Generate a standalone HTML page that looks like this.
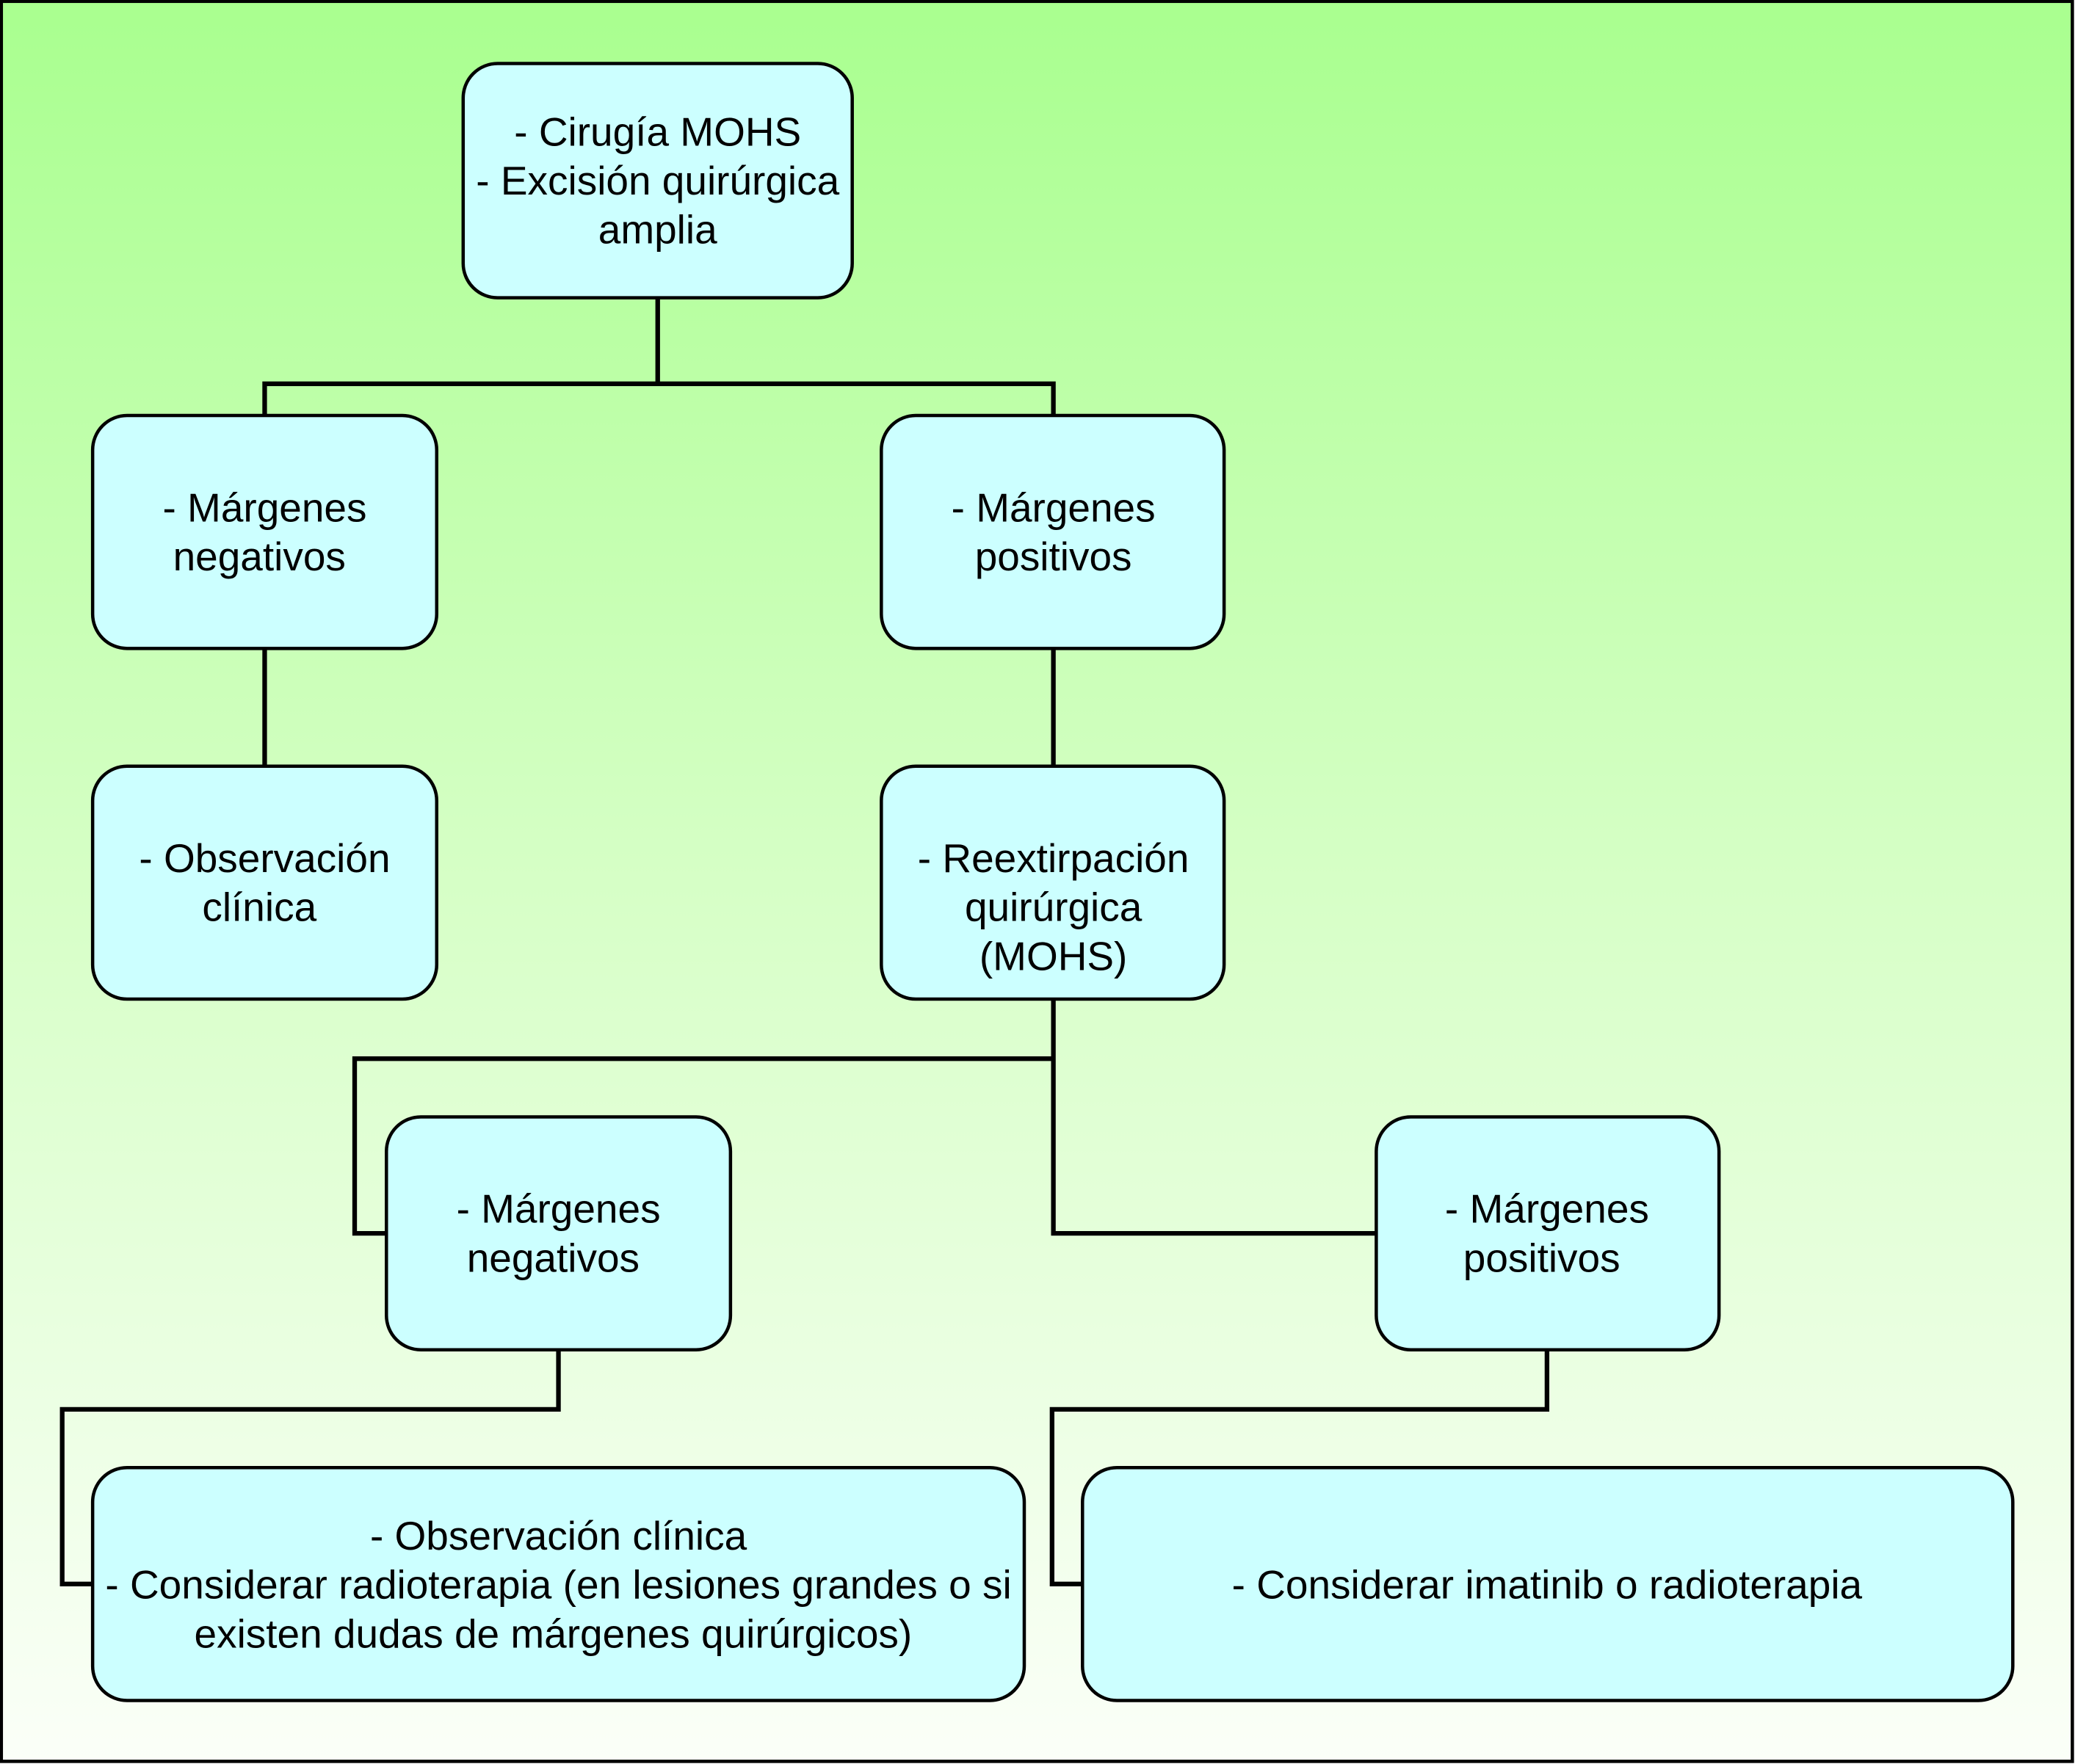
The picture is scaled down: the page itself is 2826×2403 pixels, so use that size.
<!DOCTYPE html>
<html><head><meta charset="utf-8"><style>
html,body{margin:0;padding:0;background:#fff;}
svg{display:block;}
text{font-family:"Liberation Sans",Arial,sans-serif;font-size:30.5px;fill:#000;text-anchor:middle;}
</style></head><body>
<svg width="2826" height="2403" viewBox="0 0 1568 1333" preserveAspectRatio="none" xmlns="http://www.w3.org/2000/svg">
<defs><linearGradient id="g" x1="0" y1="0" x2="0" y2="1">
<stop offset="0" stop-color="#a9ff8f"/><stop offset="0.5" stop-color="#d6ffc6"/><stop offset="1" stop-color="#fbfff8"/></linearGradient></defs>
<rect x="1" y="1" width="1565" height="1330" fill="url(#g)" stroke="#000" stroke-width="2.5"/>
<g fill="none" stroke="#000" stroke-width="3.5">
<path d="M497 225V290M200 314V290H796V314"/>
<path d="M200 490V579M796 490V579"/>
<path d="M796 755V932H1040M796 800H268V932H292"/>
<path d="M422 1020V1065H47V1197H70"/>
<path d="M1169 1020V1065H795V1197H818"/>
</g>
<g fill="#ccffff" stroke="#000" stroke-width="2.5">
<rect x="350" y="48" width="294" height="177" rx="26"/>
<rect x="70" y="314" width="260" height="176" rx="26"/>
<rect x="666" y="314" width="259" height="176" rx="26"/>
<rect x="70" y="579" width="260" height="176" rx="26"/>
<rect x="666" y="579" width="259" height="176" rx="26"/>
<rect x="292" y="844" width="260" height="176" rx="26"/>
<rect x="1040" y="844" width="259" height="176" rx="26"/>
<rect x="70" y="1109" width="704" height="176" rx="26"/>
<rect x="818" y="1109" width="703" height="176" rx="26"/>
</g>
<text x="497" y="110">- Cirugía MOHS</text>
<text x="497" y="147">- Excisión quirúrgica</text>
<text x="497" y="184">amplia</text>
<text x="200" y="394">- Márgenes</text>
<text x="196" y="431">negativos</text>
<text x="796" y="394">- Márgenes</text>
<text x="796" y="431">positivos</text>
<text x="200" y="659">- Observación</text>
<text x="196" y="696">clínica</text>
<text x="796" y="659">- Reextirpación</text>
<text x="796" y="696">quirúrgica</text>
<text x="796" y="733">(MOHS)</text>
<text x="422" y="924">- Márgenes</text>
<text x="418" y="961">negativos</text>
<text x="1169" y="924">- Márgenes</text>
<text x="1165" y="961">positivos</text>
<text x="422" y="1171">- Observación clínica</text>
<text x="422" y="1208">- Considerar radioterapia (en lesiones grandes o si</text>
<text x="418" y="1245">existen dudas de márgenes quirúrgicos)</text>
<text x="1169" y="1208">- Considerar imatinib o radioterapia</text>
</svg>
</body></html>
